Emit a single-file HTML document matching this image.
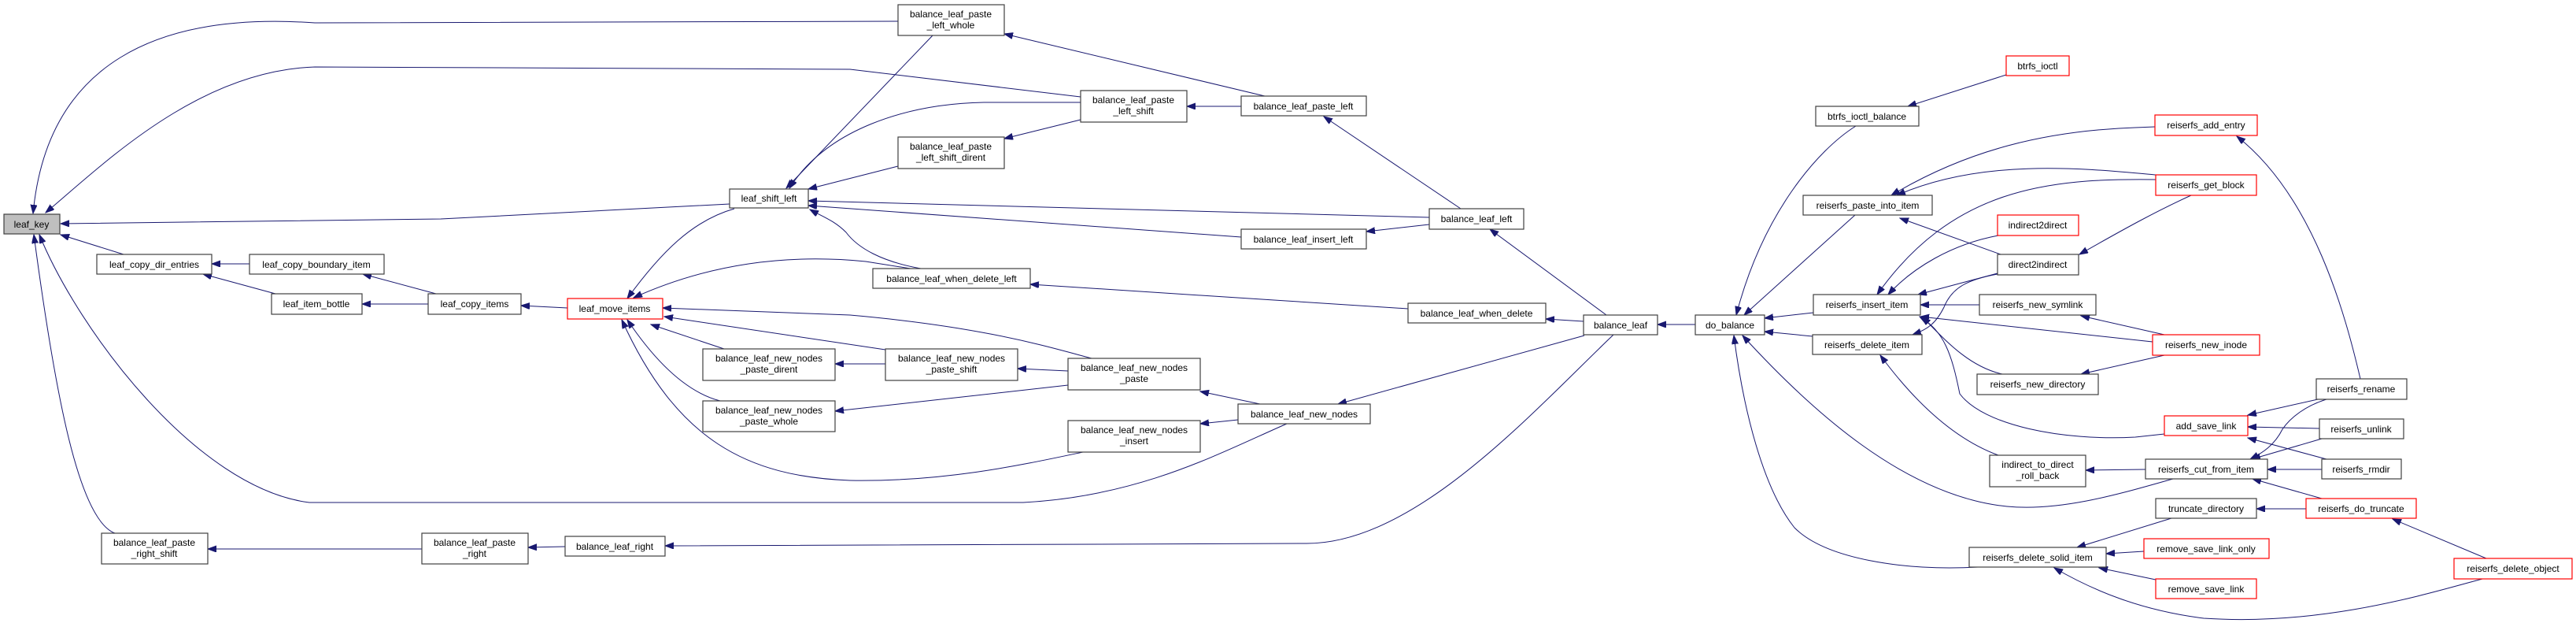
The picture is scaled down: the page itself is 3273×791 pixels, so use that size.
<!DOCTYPE html>
<html><head><meta charset="utf-8"><style>
html,body{margin:0;padding:0;background:#fff;}
svg{display:block;}
text{font-family:"Liberation Sans",Arial,sans-serif;font-size:12px;fill:#000;text-anchor:middle;}
.e{fill:none;stroke:#191970;stroke-width:1;marker-end:url(#a);}
.n{fill:#fff;stroke:#404040;stroke-width:1.2;}
.r{fill:#fff;stroke:#ff0000;stroke-width:1.2;}
</style></head><body>
<svg width="3273" height="791" viewBox="0 0 3273 791" xmlns="http://www.w3.org/2000/svg">
<defs><marker id="a" markerUnits="userSpaceOnUse" markerWidth="12" markerHeight="9" refX="11" refY="4" orient="auto"><path d="M0,0 L11,4 L0,8 z" fill="#191970" stroke="#191970"/></marker></defs>
<g>
<path class="e" d="M1141,27 L400,29 C200,15 60,80 42,271"/>
<path class="e" d="M1373,123 L1080,88 L400,85 C250,90 130,210 58,270"/>
<path class="e" d="M927,259 L560,278 L77,284"/>
<path class="e" d="M157,323 L77,298"/>
<path class="e" d="M1635,538 C1550,575 1450,630 1300,638 L393,638 C250,620 100,420 50,298"/>
<path class="e" d="M146,677 C100,660 70,500 43,298"/>
<path class="e" d="M317,335 L269,335"/>
<path class="e" d="M350,373 L258,348"/>
<path class="e" d="M554,373 L461,348"/>
<path class="e" d="M544,386 L460,386"/>
<path class="e" d="M721,391 L662,388"/>
<path class="e" d="M536,697 L264,697"/>
<path class="e" d="M718,694 L671,695"/>
<path class="e" d="M2050,425 C1950,520 1800,690 1660,690 L845,693"/>
<path class="e" d="M933,265 C880,280 840,320 797,379"/>
<path class="e" d="M1157,341 L1100,332 C1000,322 900,335 805,378"/>
<path class="e" d="M1170,341 C1120,332 1090,315 1075,295 C1060,280 1045,275 1029,266"/>
<path class="e" d="M1387,455 C1330,440 1250,415 1080,400 L842,391"/>
<path class="e" d="M1125,444 L844,402"/>
<path class="e" d="M920,443 L827,412"/>
<path class="e" d="M915,509 C880,500 840,470 797,406"/>
<path class="e" d="M1376,574 C1300,590 1200,612 1080,610 C950,605 860,560 790,406"/>
<path class="e" d="M1185,45 L999,239"/>
<path class="e" d="M1373,130 L1250,130 C1150,132 1050,165 1003,239"/>
<path class="e" d="M1141,211 L1027,240"/>
<path class="e" d="M1816,276 L1027,255"/>
<path class="e" d="M1577,301 L1027,261"/>
<path class="e" d="M1607,122 L1276,43"/>
<path class="e" d="M1373,152 L1276,176"/>
<path class="e" d="M1577,135 L1508,135"/>
<path class="e" d="M1856,265 L1682,148"/>
<path class="e" d="M1816,285 L1736,294"/>
<path class="e" d="M2041,400 L1893,291"/>
<path class="e" d="M1789,392 L1309,361"/>
<path class="e" d="M2012,408 L1964,405"/>
<path class="e" d="M2013,426 L1700,513"/>
<path class="e" d="M2154,412 L2106,412"/>
<path class="e" d="M1357,471 L1293,468"/>
<path class="e" d="M1125,462 L1061,462"/>
<path class="e" d="M1357,489 L1061,522"/>
<path class="e" d="M1601,513 L1525,497"/>
<path class="e" d="M1573,533 L1525,538"/>
<path class="e" d="M2358,160 C2310,190 2240,270 2206,400"/>
<path class="e" d="M2357,273 L2216,400"/>
<path class="e" d="M2304,397 L2242,404"/>
<path class="e" d="M2303,427 L2242,421"/>
<path class="e" d="M2761,608 C2700,625 2620,650 2550,643 C2420,630 2300,520 2214,426"/>
<path class="e" d="M2513,720 C2420,725 2320,710 2280,670 C2240,620 2215,520 2203,426"/>
<path class="e" d="M2738,161 L2713,162 C2600,166 2500,190 2403,248"/>
<path class="e" d="M2739,222 C2650,214 2520,200 2410,248"/>
<path class="e" d="M2542,323 L2414,277"/>
<path class="e" d="M2784,248 C2740,268 2700,290 2642,323"/>
<path class="e" d="M2739,228 C2600,226 2480,240 2385,374"/>
<path class="e" d="M2539,299 C2480,310 2430,340 2399,374"/>
<path class="e" d="M2538,347 L2437,374"/>
<path class="e" d="M2515,387 L2440,387"/>
<path class="e" d="M2735,434 L2440,402"/>
<path class="e" d="M2544,475 C2500,465 2470,430 2442,402"/>
<path class="e" d="M2750,551 L2713,555 C2620,560 2520,540 2490,500 C2480,450 2470,420 2439,402"/>
<path class="e" d="M2538,348 C2500,355 2480,365 2470,390 C2460,410 2450,418 2430,425"/>
<path class="e" d="M2539,578 C2490,560 2440,520 2389,451"/>
<path class="e" d="M2726,596 L2650,597"/>
<path class="e" d="M2750,425 L2644,401"/>
<path class="e" d="M2750,451 L2644,475"/>
<path class="e" d="M2759,658 L2639,695"/>
<path class="e" d="M2724,700 L2676,703"/>
<path class="e" d="M2739,736 L2667,721"/>
<path class="e" d="M3154,735 C3080,755 2950,795 2800,785 C2720,775 2660,750 2610,721"/>
<path class="e" d="M2999,481 C2980,400 2940,250 2842,173"/>
<path class="e" d="M2945,507 L2856,527"/>
<path class="e" d="M2947,544 L2856,542"/>
<path class="e" d="M2956,583 L2856,556"/>
<path class="e" d="M2956,507 C2930,515 2910,530 2900,545 C2890,565 2875,575 2859,583"/>
<path class="e" d="M2950,557 L2861,583"/>
<path class="e" d="M2950,596 L2881,596"/>
<path class="e" d="M2950,633 L2862,608"/>
<path class="e" d="M2930,646 L2867,646"/>
<path class="e" d="M3159,709 L3040,659"/>
<path class="e" d="M2549,95 L2424,135"/>
</g>
<g>
<rect x="5" y="272" width="71" height="25" fill="#bfbfbf" stroke="#404040" stroke-width="1.2"/><text x="40" y="289">leaf_key</text>
<rect class="n" x="123" y="323" width="146" height="25"/><text x="196" y="340">leaf_copy_dir_entries</text>
<rect class="n" x="317" y="323" width="171" height="25"/><text x="402" y="340">leaf_copy_boundary_item</text>
<rect class="n" x="345" y="373" width="115" height="26"/><text x="402" y="390">leaf_item_bottle</text>
<rect class="n" x="544" y="373" width="118" height="26"/><text x="603" y="390">leaf_copy_items</text>
<rect class="n" x="129" y="677" width="135" height="39"/><text x="196" y="693">balance_leaf_paste</text><text x="196" y="707">_right_shift</text>
<rect class="n" x="536" y="677" width="135" height="39"/><text x="603" y="693">balance_leaf_paste</text><text x="603" y="707">_right</text>
<rect class="n" x="718" y="681" width="127" height="25"/><text x="781" y="698">balance_leaf_right</text>
<rect class="r" x="721" y="379" width="121" height="26"/><text x="781" y="396">leaf_move_items</text>
<rect class="n" x="927" y="240" width="100" height="24"/><text x="977" y="256">leaf_shift_left</text>
<rect class="n" x="893" y="443" width="168" height="40"/><text x="977" y="459">balance_leaf_new_nodes</text><text x="977" y="473">_paste_dirent</text>
<rect class="n" x="893" y="509" width="168" height="39"/><text x="977" y="525">balance_leaf_new_nodes</text><text x="977" y="539">_paste_whole</text>
<rect class="n" x="1141" y="6" width="135" height="39"/><text x="1208" y="22">balance_leaf_paste</text><text x="1208" y="36">_left_whole</text>
<rect class="n" x="1373" y="115" width="135" height="40"/><text x="1440" y="131">balance_leaf_paste</text><text x="1440" y="145">_left_shift</text>
<rect class="n" x="1141" y="174" width="135" height="40"/><text x="1208" y="190">balance_leaf_paste</text><text x="1208" y="204">_left_shift_dirent</text>
<rect class="n" x="1109" y="341" width="200" height="25"/><text x="1209" y="358">balance_leaf_when_delete_left</text>
<rect class="n" x="1125" y="443" width="168" height="40"/><text x="1209" y="459">balance_leaf_new_nodes</text><text x="1209" y="473">_paste_shift</text>
<rect class="n" x="1357" y="455" width="168" height="40"/><text x="1441" y="471">balance_leaf_new_nodes</text><text x="1441" y="485">_paste</text>
<rect class="n" x="1357" y="534" width="168" height="40"/><text x="1441" y="550">balance_leaf_new_nodes</text><text x="1441" y="564">_insert</text>
<rect class="n" x="1577" y="122" width="159" height="25"/><text x="1656" y="139">balance_leaf_paste_left</text>
<rect class="n" x="1577" y="291" width="159" height="25"/><text x="1656" y="308">balance_leaf_insert_left</text>
<rect class="n" x="1573" y="513" width="168" height="25"/><text x="1657" y="530">balance_leaf_new_nodes</text>
<rect class="n" x="1816" y="265" width="120" height="26"/><text x="1876" y="282">balance_leaf_left</text>
<rect class="n" x="1789" y="385" width="175" height="25"/><text x="1876" y="402">balance_leaf_when_delete</text>
<rect class="n" x="2012" y="400" width="94" height="25"/><text x="2059" y="417">balance_leaf</text>
<rect class="n" x="2154" y="400" width="88" height="25"/><text x="2198" y="417">do_balance</text>
<rect class="r" x="2549" y="71" width="80" height="25"/><text x="2589" y="88">btrfs_ioctl</text>
<rect class="n" x="2307" y="135" width="131" height="25"/><text x="2372" y="152">btrfs_ioctl_balance</text>
<rect class="n" x="2291" y="248" width="164" height="25"/><text x="2373" y="265">reiserfs_paste_into_item</text>
<rect class="r" x="2538" y="273" width="103" height="26"/><text x="2589" y="290">indirect2direct</text>
<rect class="n" x="2538" y="323" width="103" height="26"/><text x="2589" y="340">direct2indirect</text>
<rect class="n" x="2304" y="374" width="136" height="26"/><text x="2372" y="391">reiserfs_insert_item</text>
<rect class="n" x="2515" y="374" width="148" height="26"/><text x="2589" y="391">reiserfs_new_symlink</text>
<rect class="n" x="2303" y="425" width="139" height="25"/><text x="2372" y="442">reiserfs_delete_item</text>
<rect class="n" x="2512" y="475" width="154" height="26"/><text x="2589" y="492">reiserfs_new_directory</text>
<rect class="n" x="2528" y="578" width="122" height="40"/><text x="2589" y="594">indirect_to_direct</text><text x="2589" y="608">_roll_back</text>
<rect class="n" x="2502" y="695" width="174" height="25"/><text x="2589" y="712">reiserfs_delete_solid_item</text>
<rect class="r" x="2738" y="146" width="130" height="26"/><text x="2803" y="163">reiserfs_add_entry</text>
<rect class="r" x="2739" y="222" width="128" height="26"/><text x="2803" y="239">reiserfs_get_block</text>
<rect class="r" x="2735" y="425" width="136" height="26"/><text x="2803" y="442">reiserfs_new_inode</text>
<rect class="n" x="2943" y="481" width="115" height="26"/><text x="3000" y="498">reiserfs_rename</text>
<rect class="r" x="2750" y="528" width="106" height="25"/><text x="2803" y="545">add_save_link</text>
<rect class="n" x="2947" y="532" width="107" height="25"/><text x="3000" y="549">reiserfs_unlink</text>
<rect class="n" x="2726" y="583" width="155" height="25"/><text x="2803" y="600">reiserfs_cut_from_item</text>
<rect class="n" x="2950" y="583" width="101" height="25"/><text x="3000" y="600">reiserfs_rmdir</text>
<rect class="n" x="2739" y="633" width="128" height="25"/><text x="2803" y="650">truncate_directory</text>
<rect class="r" x="2930" y="633" width="140" height="25"/><text x="3000" y="650">reiserfs_do_truncate</text>
<rect class="r" x="2724" y="684" width="159" height="25"/><text x="2803" y="701">remove_save_link_only</text>
<rect class="r" x="2739" y="735" width="128" height="25"/><text x="2803" y="752">remove_save_link</text>
<rect class="r" x="3118" y="709" width="150" height="26"/><text x="3193" y="726">reiserfs_delete_object</text>
</g>
</svg>
</body></html>
